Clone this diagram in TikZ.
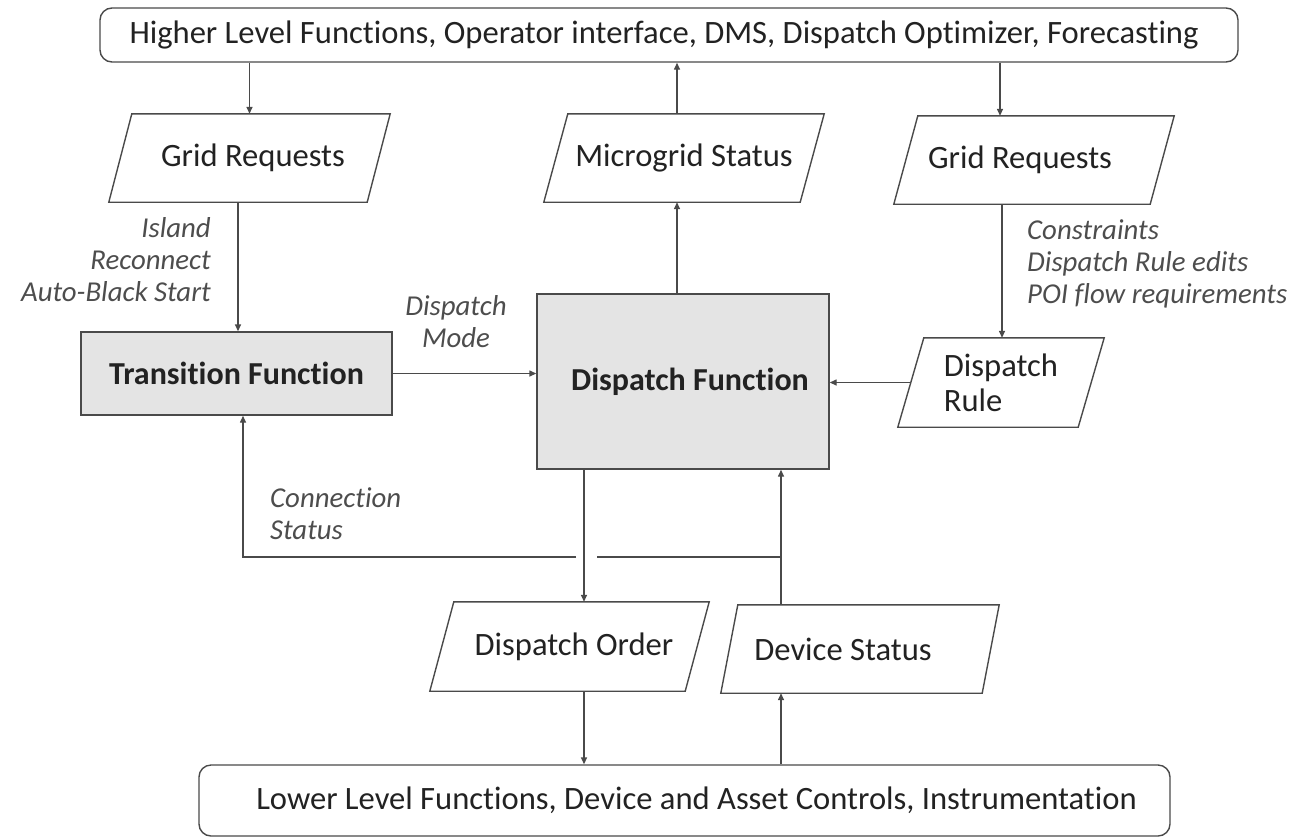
\documentclass[tikz,border=0pt]{standalone}
\usepackage{fontspec}
\setmainfont{Carlito}[Ligatures=NoCommon]
\usetikzlibrary{arrows.meta,calc}
\definecolor{edge}{HTML}{4A4A4A}
\definecolor{ink}{HTML}{222222}
\definecolor{notegray}{HTML}{4D4D4D}
\definecolor{fnfill}{HTML}{E4E4E4}
% outline of a right-leaning parallelogram spanning a node's box
\newcommand\slantbox[2]{\draw[edge line] ([xshift=#2]#1.north west) -- (#1.north east) -- ([xshift=-#2]#1.south east) -- (#1.south west) -- cycle;}
\begin{document}
\begin{tikzpicture}[x=1pt,y=-1pt,
  every node/.style={inner sep=0pt, text=ink},
  edge line/.style={draw=edge, line width=1.4pt},
  banner/.style={edge line, rounded corners=12pt, font=\fontsize{32.6}{38}\selectfont},
  fnbox/.style={edge line, fill=fnfill, font=\bfseries\fontsize{32}{38}\selectfont},
  io/.style={font=\fontsize{32.6}{38}\selectfont},
  note/.style={text=notegray, font=\itshape\fontsize{28.8}{32}\selectfont},
  flow/.style={edge line, -{Triangle[length=7pt,width=6pt]}},
  wire/.style={edge line},
]
\useasboundingbox (0,0) rectangle (1292,839);

% levels above and below
\node[banner, minimum width=1138, minimum height=54] (top) at (669,35)
  {Higher Level Functions, Operator interface, DMS, Dispatch Optimizer, Forecasting\hspace*{10pt}};
\node[banner, minimum width=971, minimum height=71] (low) at (684.5,800.5)
  {\hspace*{24pt}Lower Level Functions, Device and Asset Controls, Instrumentation};

% function blocks
\node[fnbox, minimum width=311, minimum height=83] (tf) at (236.5,373.5) {Transition Function};
\node[fnbox, minimum width=292, minimum height=175] (df) at (683,381.5) {\hspace*{14pt}Dispatch Function};

% data blocks
\node[io, minimum width=281, minimum height=88] (gl) at (249.5,158) {\hspace*{7pt}Grid Requests};
\node[io, minimum width=280, minimum height=88] (ms) at (684,158) {Microgrid Status};
\node[io, minimum width=280, minimum height=88] (gr) at (1034,160) {Grid Requests\hspace*{28pt}};
\node[io, minimum width=206, minimum height=89, align=left, font=\fontsize{32.6}{35}\selectfont] (dr) at (1001,382.5) {Dispatch\\Rule};
\node[io, minimum width=279, minimum height=89] (do) at (569.5,646.5) {\hspace*{9pt}Dispatch Order};
\node[io, minimum width=278, minimum height=88] (ds) at (860,649) {Device Status\hspace*{34pt}};
\slantbox{gl}{23}
\slantbox{ms}{24}
\slantbox{gr}{24}
\slantbox{dr}{26}
\slantbox{do}{24}
\slantbox{ds}{17}

% connectors
\coordinate (junc) at (781,557);
\coordinate (ordx) at (584,557);
\coordinate (tfx) at (243,557);

\draw[flow] (top.south -| gl.north) -- (gl.north);
\draw[flow] ([xshift=-11.5]gl.south) -- ([xshift=-11.5]gl.south |- tf.north);
\draw[flow] (tf.east) -- (tf.east -| df.west);
\draw[flow] ([xshift=-6]df.north) -- ([xshift=-6]df.north |- ms.south);
\draw[flow] ([xshift=-7]ms.north) -- ([xshift=-7]ms.north |- top.south);
\draw[flow] ([xshift=-34]gr.north |- top.south) -- ([xshift=-34]gr.north);
\draw[flow] ([xshift=-32]gr.south) -- ([xshift=-32]gr.south |- dr.north);
\draw[flow] ([xshift=13]dr.west) -- (dr.west -| df.east);

\draw[flow] (df.south -| ordx) -- (do.north -| ordx);
\draw[flow] (do.south -| ordx) -- (low.north -| ordx);
\draw[flow] (low.north -| junc) -- (ds.south -| junc);
\draw[flow] (ds.north -| junc) -- (df.south -| junc);
\draw[wire] (junc) -- ([xshift=13]ordx);
\draw[flow] ([xshift=-8]ordx) -- (tfx) -- (tf.south -| tfx);

% connector notes
\node[note, align=right, anchor=east] (nisl) at (211,260) {Island\\Reconnect\\Auto-Black Start};
\node[note, align=center] (nmode) at (456,321.5) {Dispatch\\Mode};
\node[note, align=left, anchor=west] (ncon) at (1027,263.5) {Constraints\\Dispatch Rule edits\\POI flow requirements};
\node[note, align=left, anchor=west] (nconn) at (270,513.5) {Connection\\Status};
\end{tikzpicture}
\end{document}
